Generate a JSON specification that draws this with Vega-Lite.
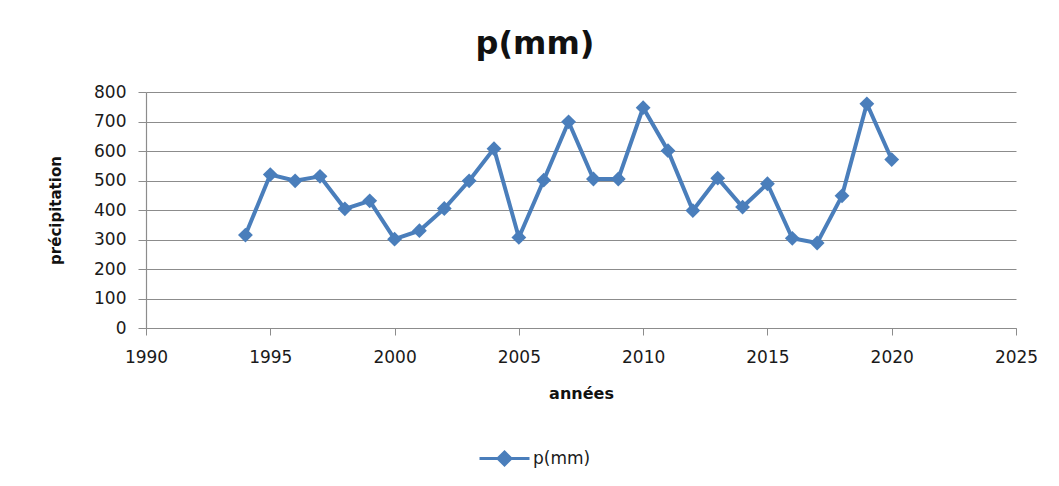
{
  "$schema": "https://vega.github.io/schema/vega-lite/v6.json",
  "autosize": {"type": "none"},
  "width": 870,
  "height": 236,
  "padding": {"left": 146, "top": 92, "right": 43, "bottom": 158},
  "background": "white",
  "config": {
    "view": {"stroke": null},
    "font": "DejaVu Sans",
    "axis": {
      "labelFont": "DejaVu Sans",
      "labelFontSize": 17,
      "labelColor": "#1a1a1a",
      "titleFont": "DejaVu Sans",
      "titleFontSize": 16,
      "titleFontWeight": "bold",
      "titleColor": "#111",
      "domainColor": "#8c8c8c",
      "tickColor": "#8c8c8c",
      "gridColor": "#8c8c8c",
      "gridWidth": 1,
      "domainWidth": 1.2,
      "tickSize": 8
    }
  },
  "title": {
    "text": "p(mm)",
    "font": "DejaVu Sans",
    "fontSize": 32,
    "fontWeight": "bold",
    "color": "#111",
    "anchor": "middle",
    "dx": -46,
    "offset": 22
  },
  "data": {
    "values": [
      {"année": 1994, "p": 315},
      {"année": 1995, "p": 520},
      {"année": 1996, "p": 499},
      {"année": 1997, "p": 514},
      {"année": 1998, "p": 404},
      {"année": 1999, "p": 431},
      {"année": 2000, "p": 301},
      {"année": 2001, "p": 330},
      {"année": 2002, "p": 405},
      {"année": 2003, "p": 499},
      {"année": 2004, "p": 608},
      {"année": 2005, "p": 307},
      {"année": 2006, "p": 501},
      {"année": 2007, "p": 699},
      {"année": 2008, "p": 505},
      {"année": 2009, "p": 505},
      {"année": 2010, "p": 747},
      {"année": 2011, "p": 601},
      {"année": 2012, "p": 398},
      {"année": 2013, "p": 508},
      {"année": 2014, "p": 410},
      {"année": 2015, "p": 489},
      {"année": 2016, "p": 304},
      {"année": 2017, "p": 288},
      {"année": 2018, "p": 448},
      {"année": 2019, "p": 760},
      {"année": 2020, "p": 571}
    ]
  },
  "mark": {
    "type": "line",
    "strokeWidth": 4,
    "point": {"shape": "diamond", "size": 220, "filled": true}
  },
  "encoding": {
    "x": {
      "field": "année",
      "type": "quantitative",
      "scale": {"domain": [1990, 2025], "nice": false, "zero": false},
      "axis": {
        "title": "années",
        "values": [1990, 1995, 2000, 2005, 2010, 2015, 2020, 2025],
        "format": "d",
        "grid": false,
        "tickSize": 7,
        "labelPadding": 14,
        "labelFlush": false,
        "labelBound": false,
        "labelOverlap": false,
        "titlePadding": 20
      }
    },
    "y": {
      "field": "p",
      "type": "quantitative",
      "scale": {"domain": [0, 800], "nice": false},
      "axis": {
        "title": "précipitation",
        "titleFontSize": 15,
        "values": [0, 100, 200, 300, 400, 500, 600, 700, 800],
        "grid": true,
        "labelPadding": 12,
        "labelFlush": false,
        "titlePadding": 30
      }
    },
    "color": {
      "datum": "p(mm)",
      "type": "nominal",
      "scale": {"range": ["#4a7ebb"]},
      "legend": {
        "title": null,
        "orient": "none",
        "legendX": 332,
        "legendY": 340,
        "symbolType": "M-1,0L1,0M0,-0.26L0.26,0L0,0.26L-0.26,0Z",
        "symbolSize": 2500,
        "symbolStrokeWidth": 3,
        "symbolFillColor": "#4a7ebb",
        "labelFont": "DejaVu Sans",
        "labelFontSize": 17,
        "labelColor": "#1a1a1a",
        "labelOffset": 2,
        "encode": {"symbols": {"update": {"fill": {"value": "#4a7ebb"}, "stroke": {"value": "#4a7ebb"}}}}
      }
    }
  }
}
